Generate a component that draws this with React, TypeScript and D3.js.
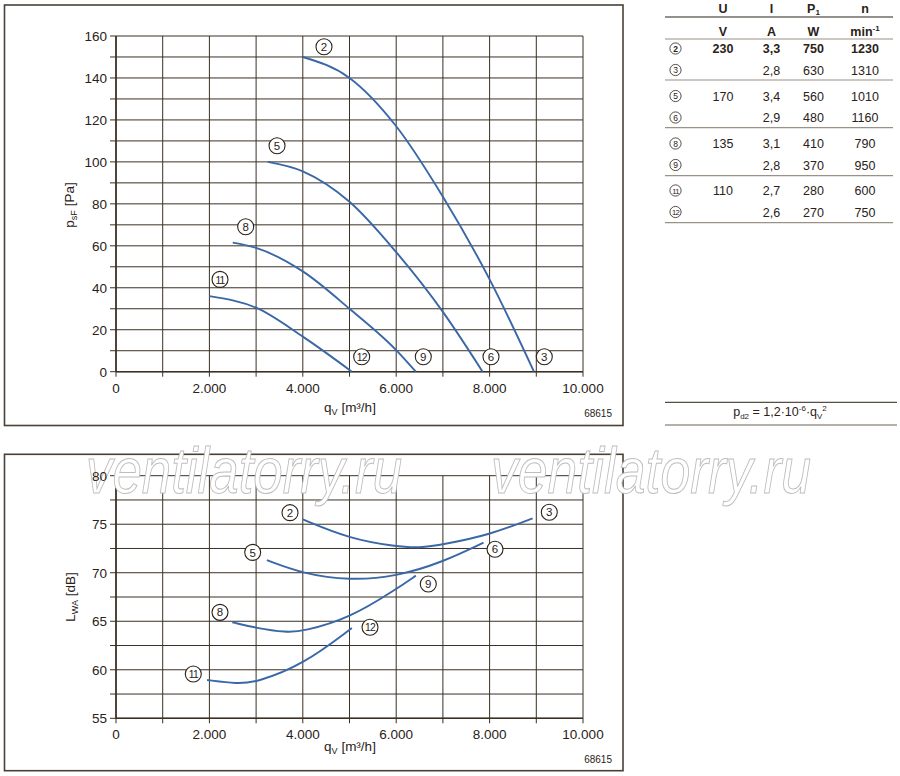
import React from "react";
import * as d3 from "d3";

// ---------- data ----------
const xTickValues = [0, 2000, 4000, 6000, 8000, 10000];
const pTickValues = [0, 20, 40, 60, 80, 100, 120, 140, 160];
const lTickValues = [55, 60, 65, 70, 75, 80];

// pressure curves (qV m3/h, psF Pa)
const pCurve2 = [[4000, 150], [5000, 140], [6000, 117], [7000, 83.4], [8000, 44], [8950, 0]];
const pCurve5 = [[3250, 100], [4000, 95.5], [5000, 81], [6000, 57], [7000, 28.5], [7850, 0]];
const pCurve8 = [[2500, 61.5], [3000, 59], [4000, 47.8], [5000, 30], [6000, 10.3], [6420, 0]];
const pCurve11 = [[2000, 36], [3000, 30.5], [4000, 16.7], [5050, 0]];
const pressureCurves = [pCurve2, pCurve5, pCurve8, pCurve11];

// sound power curves (qV m3/h, LWA dB)
const lCurve2 = [[4000, 75.5], [5000, 73.5], [6000, 72.7], [6500, 72.55], [7000, 72.9], [8000, 73.9], [8920, 75.6]];
const lCurve5 = [[3230, 71.3], [4000, 69.9], [5000, 69.2], [6000, 69.6], [7000, 71.1], [7870, 73.1]];
const lCurve8 = [[2490, 64.9], [3000, 64.3], [3650, 63.85], [4000, 63.95], [5000, 65.3], [6000, 68.3], [6420, 69.7]];
const lCurve11 = [[1950, 58.95], [2600, 58.55], [3000, 58.7], [4000, 60.5], [5050, 64.3]];
const soundCurves = [lCurve2, lCurve5, lCurve8, lCurve11];

// circled labels: [number, qV, value]
const pLabels = [[2, 4454, 154.9], [5, 3448, 107.7], [8, 2777, 69.1], [11, 2227, 44], [12, 5261, 7.15], [9, 6580, 7.15], [6, 8030, 7.15], [3, 9171, 7.15]];
const lLabels = [[2, 3726, 76.19], [5, 2927, 72.1], [8, 2227, 65.92], [11, 1655, 59.57], [3, 9278, 76.23], [6, 8116, 72.42], [9, 6687, 68.84], [12, 5439, 64.38]];

// table
const tableIds = [2, 3, 5, 6, 8, 9, 11, 12];
const tableU = ["230", "", "170", "", "135", "", "110", ""];
const tableI = ["3,3", "2,8", "3,4", "2,9", "3,1", "2,8", "2,7", "2,6"];
const tableP = ["750", "630", "560", "480", "410", "370", "280", "270"];
const tableN = ["1230", "1310", "1010", "1160", "790", "950", "600", "750"];

// ---------- styles ----------
const FONT = "'Liberation Sans', Arial, Helvetica, sans-serif";
const GRID = "#3b3024";
const CURVE = "#3a67a6";
const TXT = "#2a2218";

const locale = d3.formatLocale({ decimal: ",", thousands: ".", grouping: [3], currency: ["", ""] });
const fmt = locale.format(",");

function Circled({ x, y, n, r = 8, fs = 11.5 }: { x: number; y: number; n: number; r?: number; fs?: number }) {
  const two = n >= 10;
  return (
    <g>
      <circle cx={x} cy={y} r={r} fill="white" stroke={TXT} strokeWidth={r > 6 ? 1.1 : 0.8} />
      <text
        x={x}
        y={y + fs * 0.36}
        textAnchor="middle"
        fontSize={two ? fs * 0.9 : fs}
        letterSpacing={two ? -0.8 : 0}
        fill={TXT}
      >
        {n}
      </text>
    </g>
  );
}

const x = d3.scaleLinear().domain([0, 10000]).range([116, 583]);
const yP = d3.scaleLinear().domain([0, 160]).range([371.7, 36]);
const yL = d3.scaleLinear().domain([55, 80]).range([718.3, 475.7]);

function Grid({ y, min, max, step, ticks, showY }: { y: d3.ScaleLinear<number, number>; min: number; max: number; step: number; ticks: number[]; showY: boolean }) {
  const hVals = d3.range(min, max + step / 2, step);
  const vVals = d3.range(0, 10001, 1000);
  const y0 = y(min);
  const y1 = y(max);
  return (
    <g>
      {hVals.map((v) => (
        <line key={"h" + v} x1={x(0) - 6} x2={x(10000)} y1={y(v)} y2={y(v)} stroke={GRID} strokeWidth={1} />
      ))}
      {vVals.map((v) => (
        <line key={"v" + v} x1={x(v)} x2={x(v)} y1={y1} y2={y0 + 5} stroke={GRID} strokeWidth={1} />
      ))}
      <line x1={x(0)} x2={x(10000)} y1={y0} y2={y0} stroke={GRID} strokeWidth={1.6} />
      <line x1={x(0)} x2={x(0)} y1={y1} y2={y0} stroke={GRID} strokeWidth={1.6} />
      {showY &&
        ticks.map((v) => (
          <text key={"yt" + v} x={x(0) - 9} y={y(v) + 5} textAnchor="end" fontSize={13.5} fill={TXT}>
            {v}
          </text>
        ))}
      {xTickValues.map((v) => (
        <text key={"xt" + v} x={x(v)} y={y0 + 21} textAnchor="middle" fontSize={13.5} fill={TXT}>
          {fmt(v)}
        </text>
      ))}
    </g>
  );
}

export default function App() {
  const lineP = d3
    .line<number[]>()
    .x((d) => x(d[0]))
    .y((d) => yP(d[1]))
    .curve(d3.curveMonotoneX);
  const lineL = d3
    .line<number[]>()
    .x((d) => x(d[0]))
    .y((d) => yL(d[1]))
    .curve(d3.curveBasis);

  const rowBase = [53, 74.5, 100.5, 122, 148, 169.5, 195, 216.5];
  const sepLines = [80, 127.7, 175.7, 222.7];
  const colX = [723, 771.5, 813.5, 865];

  return (
    <svg
      width={900}
      height={776}
      style={{ position: "absolute", left: 0, top: 0, background: "white" }}
      fontFamily={FONT}
    >
      <rect x={0} y={0} width={900} height={776} fill="white" />

      {/* ---------- top chart ---------- */}
      <rect x={4.5} y={5} width={618.5} height={420.5} fill="white" stroke="#4a4034" strokeWidth={1.6} />
      <Grid y={yP} min={0} max={160} step={10} ticks={pTickValues} showY={true} />
      {pressureCurves.map((c, i) => (
        <path key={"pc" + i} d={lineP(c) || ""} fill="none" stroke={CURVE} strokeWidth={1.9} />
      ))}
      {pLabels.map((l) => (
        <Circled key={"pl" + l[0]} x={x(l[1])} y={yP(l[2])} n={l[0]} />
      ))}
      <text transform="translate(74,205) rotate(-90)" textAnchor="middle" fontSize={13.5} fill={TXT}>
        p<tspan fontSize={9} dy={3}>sF</tspan>
        <tspan dy={-3}> [Pa]</tspan>
      </text>
      <text x={350} y={412} textAnchor="middle" fontSize={13.5} fill={TXT}>
        q<tspan fontSize={9} dy={3}>V</tspan>
        <tspan dy={-3}> [m³/h]</tspan>
      </text>
      <text x={612} y={417} textAnchor="end" fontSize={10} fill={TXT}>
        68615
      </text>

      {/* ---------- table ---------- */}
      <g fontSize={12.5} fill={TXT}>
        {["U", "I", "P", "n"].map((h, i) => (
          <text key={"th" + i} x={colX[i]} y={12.5} textAnchor="middle" fontWeight="bold">
            {h}
            {h === "P" ? <tspan fontSize={8} dy={2}>1</tspan> : null}
          </text>
        ))}
        <line x1={665} x2={893} y1={17} y2={17} stroke={TXT} strokeWidth={1.2} />
        {["V", "A", "W"].map((h, i) => (
          <text key={"tu" + i} x={colX[i]} y={35.5} textAnchor="middle" fontWeight="bold">
            {h}
          </text>
        ))}
        <text x={colX[3]} y={35.5} textAnchor="middle" fontWeight="bold">
          min<tspan fontSize={8} dy={-5}>-1</tspan>
        </text>
        <line x1={665} x2={893} y1={39} y2={39} stroke="#9a9284" strokeWidth={1.2} />
        {tableIds.map((id, i) => (
          <g key={"tr" + id} fontWeight={i === 0 ? "bold" : "normal"}>
            <Circled x={675.5} y={rowBase[i] - 4.5} n={id} r={5.6} fs={8.5} />
            <text x={colX[0]} y={rowBase[i]} textAnchor="middle">{tableU[i]}</text>
            <text x={colX[1]} y={rowBase[i]} textAnchor="middle">{tableI[i]}</text>
            <text x={colX[2]} y={rowBase[i]} textAnchor="middle">{tableP[i]}</text>
            <text x={colX[3]} y={rowBase[i]} textAnchor="middle">{tableN[i]}</text>
          </g>
        ))}
        {sepLines.map((yy) => (
          <line key={"sl" + yy} x1={665} x2={893} y1={yy} y2={yy} stroke="#9a9284" strokeWidth={1.2} />
        ))}
      </g>

      {/* formula */}
      <line x1={665} x2={897} y1={402.3} y2={402.3} stroke={TXT} strokeWidth={1} />
      <line x1={665} x2={897} y1={425} y2={425} stroke="#6a6254" strokeWidth={1} />
      <text x={780} y={416} textAnchor="middle" fontSize={12.5} fill={TXT}>
        p<tspan fontSize={8} dy={2.5}>d2</tspan>
        <tspan dy={-2.5}> = 1,2·10</tspan>
        <tspan fontSize={8} dy={-5}>-6</tspan>
        <tspan dy={5}>·q</tspan>
        <tspan fontSize={8} dy={2.5}>V</tspan>
        <tspan fontSize={8} dy={-7.5}>2</tspan>
      </text>

      {/* ---------- bottom chart ---------- */}
      <rect x={4.5} y={454.3} width={618.5} height={316.4} fill="white" stroke="#4a4034" strokeWidth={1.6} />
      <Grid y={yL} min={55} max={80} step={2.5} ticks={lTickValues} showY={false} />

      {/* watermark */}
      <g fontSize={64} fontStyle="italic" fill="white" stroke="#bdbdbd" strokeWidth={1}>
        <text x={86} y={493} textLength={316} lengthAdjust="spacingAndGlyphs">ventilatorry.ru</text>
        <text x={491} y={493} textLength={320} lengthAdjust="spacingAndGlyphs">ventilatorry.ru</text>
      </g>
      {lTickValues.map((v) => (
        <text key={"ytw" + v} x={x(0) - 9} y={yL(v) + 5} textAnchor="end" fontSize={13.5} fill={TXT}>
          {v}
        </text>
      ))}

      {soundCurves.map((c, i) => (
        <path key={"lc" + i} d={lineL(c) || ""} fill="none" stroke={CURVE} strokeWidth={1.9} />
      ))}
      {lLabels.map((l) => (
        <Circled key={"ll" + l[0]} x={x(l[1])} y={yL(l[2])} n={l[0]} />
      ))}
      <text transform="translate(75,597) rotate(-90)" textAnchor="middle" fontSize={13.5} fill={TXT}>
        L<tspan fontSize={9} dy={3}>WA</tspan>
        <tspan dy={-3}> [dB]</tspan>
      </text>
      <text x={350} y={751} textAnchor="middle" fontSize={13.5} fill={TXT}>
        q<tspan fontSize={9} dy={3}>V</tspan>
        <tspan dy={-3}> [m³/h]</tspan>
      </text>
      <text x={612} y={763} textAnchor="end" fontSize={10} fill={TXT}>
        68615
      </text>
    </svg>
  );
}
